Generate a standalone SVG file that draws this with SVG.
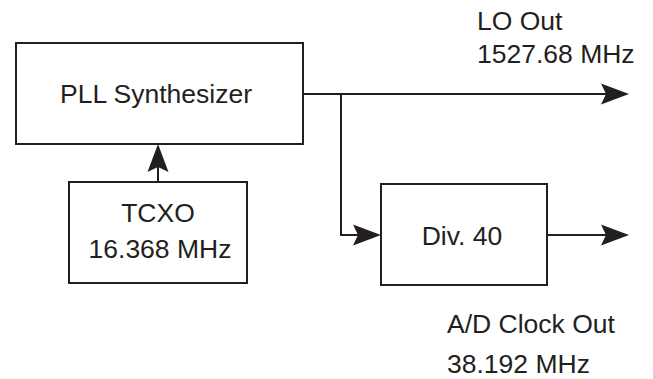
<svg xmlns="http://www.w3.org/2000/svg" width="653" height="379" viewBox="0 0 653 379">
<defs>
<style>
.box{fill:#fff;stroke:#231f20;stroke-width:2}
.ln{fill:none;stroke:#231f20;stroke-width:2}
text{font-family:"Liberation Sans",Arial,sans-serif;font-size:26.5px;fill:#231f20}
.c{text-anchor:middle}
</style>
<marker id="ah" markerUnits="userSpaceOnUse" markerWidth="30" markerHeight="24" viewBox="0 -12 30 24" refX="20" refY="0" orient="auto">
<path d="M28,0 L0,-10.5 L5,0 L0,10.5 Z" fill="#231f20"/>
</marker>
</defs>
<rect width="653" height="379" fill="#fff"/>
<g id="connectors">
<path class="ln" d="M303,94 H621" marker-end="url(#ah)"/>
<path class="ln" d="M341,94 V235 H373" marker-end="url(#ah)"/>
<path class="ln" d="M547,235 H621" marker-end="url(#ah)"/>
<path class="ln" d="M158,182 V152" marker-end="url(#ah)"/>
</g>
<g id="pll">
<rect class="box" x="16" y="43" width="287" height="101"/>
<text class="c" x="156" y="103">PLL Synthesizer</text>
</g>
<g id="tcxo">
<rect class="box" x="69" y="182" width="178" height="101"/>
<text class="c" x="158" y="222">TCXO</text>
<text class="c" x="160" y="258">16.368 MHz</text>
</g>
<g id="div40">
<rect class="box" x="381" y="184" width="166" height="101"/>
<text class="c" x="462" y="245">Div. 40</text>
</g>
<g id="lo-out">
<text x="477" y="30">LO Out</text>
<text x="477" y="63">1527.68 MHz</text>
</g>
<g id="ad-out">
<text x="447" y="333">A/D Clock Out</text>
<text x="447" y="373">38.192 MHz</text>
</g>
</svg>
